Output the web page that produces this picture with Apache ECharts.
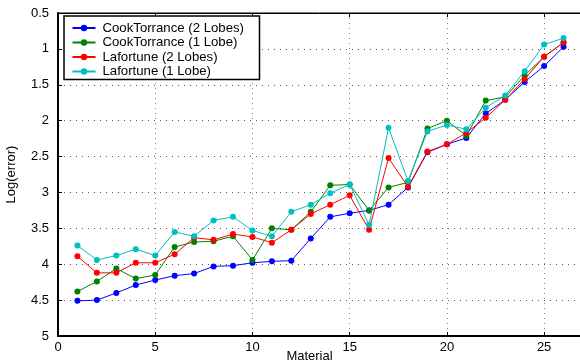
<!DOCTYPE html>
<html>
<head>
<meta charset="utf-8">
<script src="https://cdn.jsdelivr.net/npm/echarts@6/dist/echarts.min.js"></script>
<style>
    html, body { margin: 0; padding: 0; background: #fff; }
    #chart { width: 580px; height: 362px; }
</style>
</head>
<body>
<div id="chart"></div>
<script>
var materials = [1, 2, 3, 4, 5, 6, 7, 8, 9, 10, 11, 12, 13, 14, 15, 16, 17, 18, 19, 20, 21, 22, 23, 24, 25, 26];

var cook2 = [4.51, 4.50, 4.40, 4.29, 4.22, 4.16, 4.13, 4.03, 4.02, 3.98, 3.96, 3.95, 3.64,
    3.34, 3.29, 3.25, 3.17, 2.93, 2.44, 2.33, 2.24, 1.90, 1.71, 1.46, 1.24, 0.97];
var cook1 = [4.38, 4.24, 4.06, 4.20, 4.15, 3.76, 3.69, 3.68, 3.61, 3.94, 3.50, 3.52, 3.27,
    2.90, 2.89, 3.25, 2.93, 2.86, 2.11, 2.00, 2.21, 1.72, 1.67, 1.37, 1.11, 0.91];
var lafo2 = [3.89, 4.12, 4.12, 3.98, 3.98, 3.86, 3.63, 3.66, 3.58, 3.62, 3.70, 3.52, 3.30,
    3.17, 3.04, 3.52, 2.52, 2.92, 2.43, 2.33, 2.17, 1.96, 1.71, 1.42, 1.11, 0.91];
var lafo1 = [3.74, 3.94, 3.88, 3.79, 3.88, 3.55, 3.61, 3.39, 3.34, 3.53, 3.61, 3.27, 3.17,
    3.01, 2.89, 3.45, 2.10, 2.84, 2.15, 2.06, 2.12, 1.82, 1.65, 1.31, 0.94, 0.85];

var seriesNames = ['CookTorrance (2 Lobes)', 'CookTorrance (1 Lobe)', 'Lafortune (2 Lobes)', 'Lafortune (1 Lobe)'];
var seriesColors = ['#0000ff', '#008000', '#ff0000', '#00bfbf'];
var seriesData = [cook2, cook1, lafo2, lafo1];

function pairs(vals) {
    return vals.map(function (v, i) { return [materials[i], v]; });
}

var myChart = echarts.init(document.getElementById('chart'));

var fontFam = 'Liberation Sans, Arial, sans-serif';

var option = {
    animation: false,
    textStyle: { fontFamily: fontFam },
    grid: {
        left: 58,
        top: 13,
        right: -3,
        bottom: 26,
        outerBoundsMode: 'none',
        containLabel: false,
        show: true,
        borderColor: '#000',
        borderWidth: 1
    },
    legend: {
        orient: 'vertical',
        left: 64,
        top: 16,
        data: seriesNames,
        itemWidth: 23,
        itemHeight: 8,
        itemGap: 0.5,
        padding: [5, 14, 1, 7.5],
        borderColor: '#000',
        borderWidth: 1.5,
        backgroundColor: '#fff',
        textStyle: {
            fontSize: 13.2, lineHeight: 14, color: '#000', fontFamily: fontFam,
            width: 143, padding: [0, 0, 0, 2]
        }
    },
    xAxis: [
        {
            type: 'value',
            min: 0,
            max: 27,
            interval: 5,
            name: 'Material',
            nameLocation: 'middle',
            nameGap: 14,
            nameMoveOverlap: false,
            nameTextStyle: { fontSize: 13, color: '#000', padding: [0, 22, 0, 0] },
            axisLine: { lineStyle: { color: '#000', width: 2 } },
            axisTick: { inside: true, length: 4, lineStyle: { color: '#000' } },
            axisLabel: { fontSize: 13, color: '#000', margin: 5,
                formatter: function (v) { return v % 5 === 0 && v <= 25 ? v : ''; } },
            splitLine: { show: true, lineStyle: { color: '#888', type: [1, 4] } }
        },
        {
            type: 'value',
            position: 'top',
            min: 0,
            max: 27,
            interval: 5,
            axisLine: { show: true, lineStyle: { color: '#000', width: 1 } },
            axisTick: { inside: true, length: 4, lineStyle: { color: '#000' } },
            axisLabel: { show: false },
            splitLine: { show: false }
        }
    ],
    yAxis: {
        type: 'value',
        inverse: true,
        min: 0.5,
        max: 5,
        interval: 0.5,
        name: 'Log(error)',
        nameLocation: 'middle',
        nameGap: 40,
        nameMoveOverlap: false,
        nameTextStyle: { fontSize: 13, color: '#000' },
        axisLine: { show: true, lineStyle: { color: '#000', width: 2 } },
        axisTick: { show: true, inside: true, length: 4, lineStyle: { color: '#000' } },
        axisLabel: { fontSize: 13, color: '#000', margin: 9 },
        splitLine: { show: true, lineStyle: { color: '#555', type: [1, 5] } }
    },
    series: seriesData.map(function (vals, k) {
        return {
            name: seriesNames[k],
            type: 'line',
            data: pairs(vals),
            symbol: 'circle',
            symbolSize: 6,
            showSymbol: true,
            color: seriesColors[k],
            lineStyle: { width: 1, color: seriesColors[k] },
            itemStyle: { color: seriesColors[k] },
            z: 2 + k
        };
    })
};

myChart.setOption(option);
</script>
</body>
</html>
